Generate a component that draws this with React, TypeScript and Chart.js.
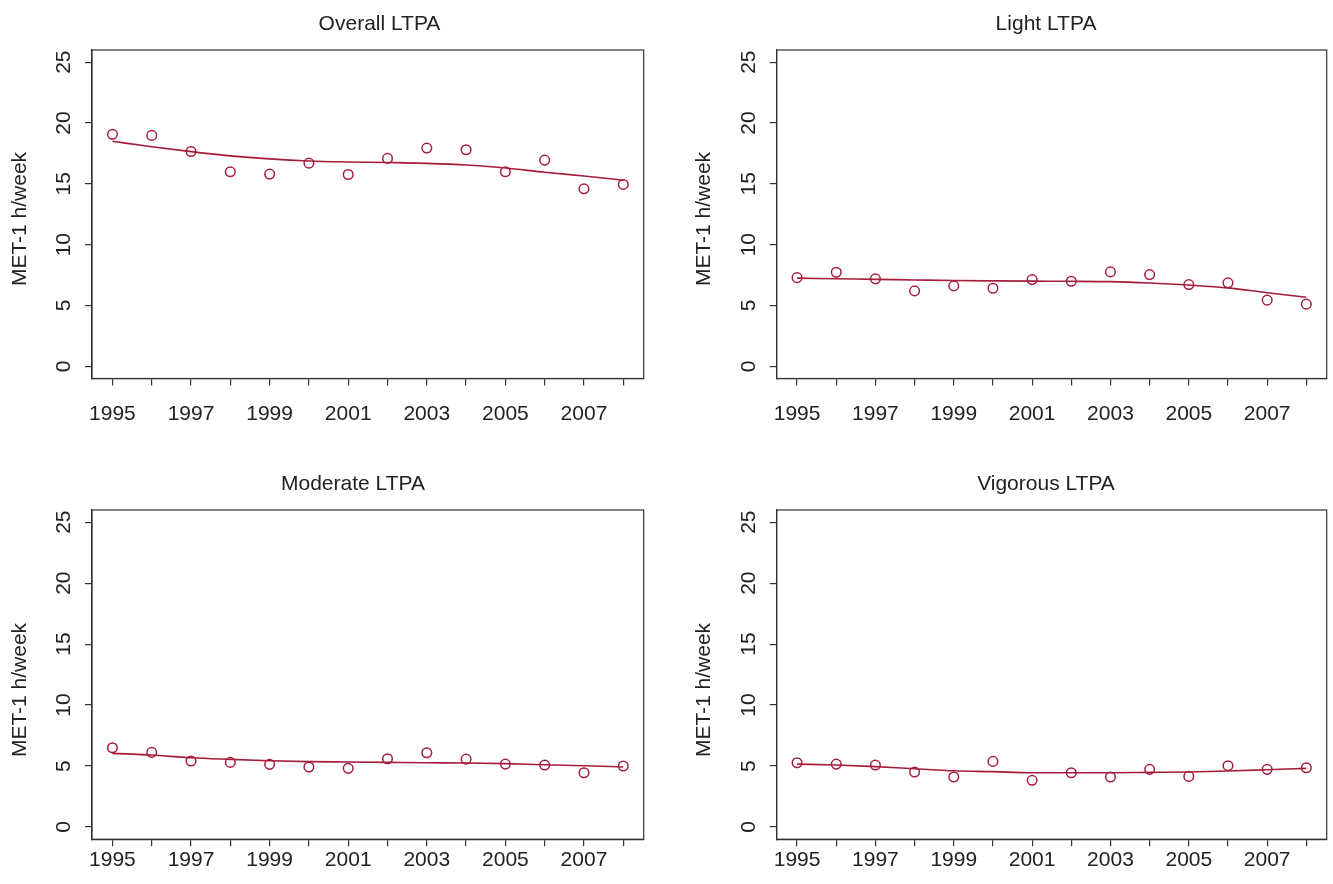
import React, { useEffect, useRef } from "react";
import { Chart, registerables } from "chart.js";

Chart.register(...registerables);

// ---------- data ----------
const years = [1995, 1996, 1997, 1998, 1999, 2000, 2001, 2002, 2003, 2004, 2005, 2006, 2007, 2008];
const xTickYears = [1995, 1996, 1997, 1998, 1999, 2000, 2001, 2002, 2003, 2004, 2005, 2006, 2007, 2008];
const xLabelYears = [1995, 1997, 1999, 2001, 2003, 2005, 2007];
const yTicks = [0, 5, 10, 15, 20, 25];

const overallValues = [19.07, 18.98, 17.66, 15.99, 15.8, 16.7, 15.77, 17.09, 17.94, 17.8, 15.99, 16.95, 14.59, 14.95];
const overallSmooth = [18.5, 18.05, 17.65, 17.3, 17.05, 16.88, 16.8, 16.75, 16.68, 16.55, 16.3, 15.95, 15.65, 15.3];

const lightValues = [7.29, 7.73, 7.19, 6.2, 6.61, 6.42, 7.13, 6.99, 7.76, 7.54, 6.72, 6.86, 5.44, 5.11];
const lightSmooth = [7.25, 7.2, 7.15, 7.1, 7.05, 7.02, 7.0, 6.99, 6.96, 6.85, 6.68, 6.45, 6.05, 5.68];

const moderateValues = [6.5, 6.12, 5.41, 5.3, 5.14, 4.92, 4.81, 5.6, 6.09, 5.57, 5.16, 5.08, 4.45, 5.0];
const moderateSmooth = [6.04, 5.9, 5.68, 5.55, 5.44, 5.36, 5.33, 5.3, 5.27, 5.25, 5.2, 5.1, 5.03, 4.92];

const vigorousValues = [5.27, 5.16, 5.08, 4.51, 4.1, 5.38, 3.83, 4.45, 4.1, 4.73, 4.15, 5.03, 4.73, 4.86];
const vigorousSmooth = [5.16, 5.08, 4.95, 4.78, 4.61, 4.54, 4.45, 4.45, 4.45, 4.48, 4.51, 4.59, 4.7, 4.81];

const panelTitles = ["Overall LTPA", "Light LTPA", "Moderate LTPA", "Vigorous LTPA"];
const yAxisTitle = "MET-1 h/week";

// ---------- styling / layout ----------
const FONT = '"Liberation Sans", Arial, Helvetica, sans-serif';
const FS = 21;
const MARK = "#A51C3C";
const INK = "#222222";
const AXIS = "#333333";

type Panel = {
  title: string;
  values: number[];
  smooth: number[];
  left: number;
  top: number;
  width: number;
  height: number;
  padL: number;
  padR: number;
  padT: number;
  areaBottom: number;
  titleX: number;
  titleY: number;
  yTitleX: number;
  yTitleY: number;
  xLabelPad: number;
};

const PANELS: Panel[] = [
  { title: panelTitles[0], values: overallValues, smooth: overallSmooth, left: 0, top: 0, width: 666, height: 442, padL: 0, padR: 22.3, padT: 50, areaBottom: 378.5, titleX: 379.5, titleY: 30, yTitleX: 20, yTitleY: 219, xLabelPad: 16 },
  { title: panelTitles[1], values: lightValues, smooth: lightSmooth, left: 666, top: 0, width: 667, height: 442, padL: 18.7, padR: 4.6, padT: 50, areaBottom: 378.5, titleX: 380, titleY: 30, yTitleX: 38.5, yTitleY: 219, xLabelPad: 16 },
  { title: panelTitles[2], values: moderateValues, smooth: moderateSmooth, left: 0, top: 442, width: 666, height: 442, padL: 0, padR: 22.3, padT: 68, areaBottom: 397.2, titleX: 353, titleY: 48, yTitleX: 20, yTitleY: 248, xLabelPad: 1 },
  { title: panelTitles[3], values: vigorousValues, smooth: vigorousSmooth, left: 666, top: 442, width: 667, height: 442, padL: 18.7, padR: 4.6, padT: 68, areaBottom: 397.2, titleX: 380, titleY: 48, yTitleX: 38.5, yTitleY: 248, xLabelPad: 1 },
];

const panelDecor = {
  id: "panelDecor",
  afterDraw(chart: any, _args: any, opts: any) {
    const { ctx, chartArea } = chart;
    ctx.save();
    ctx.strokeStyle = AXIS;
    ctx.lineWidth = 1.2;
    ctx.strokeRect(chartArea.left, chartArea.top, chartArea.right - chartArea.left, chartArea.bottom - chartArea.top);
    ctx.fillStyle = INK;
    ctx.font = `${FS}px ${FONT}`;
    ctx.textAlign = "center";
    ctx.textBaseline = "alphabetic";
    ctx.fillText(opts.text, opts.x, opts.y);
    ctx.translate(opts.yx, opts.yy);
    ctx.rotate(-Math.PI / 2);
    ctx.textBaseline = "middle";
    ctx.fillText(opts.yText, 0, 0);
    ctx.restore();
  },
};

function makeConfig(p: Panel): any {
  const points = years.map((x, i) => ({ x, y: p.values[i] }));
  const curve = years.map((x, i) => ({ x, y: p.smooth[i] }));
  return {
    type: "scatter",
    data: {
      datasets: [
        {
          data: curve,
          showLine: true,
          borderColor: MARK,
          borderWidth: 1.6,
          pointRadius: 0,
          pointHoverRadius: 0,
          cubicInterpolationMode: "monotone",
          fill: false,
        },
        {
          data: points,
          showLine: false,
          pointStyle: "circle",
          pointRadius: 4.8,
          pointHoverRadius: 4.8,
          borderColor: MARK,
          backgroundColor: "rgba(0,0,0,0)",
          pointBorderWidth: 1.5,
        },
      ],
    },
    options: {
      animation: false,
      responsive: false,
      devicePixelRatio: 1,
      events: [],
      layout: { padding: { left: p.padL, right: p.padR, top: p.padT, bottom: 0 } },
      plugins: {
        legend: { display: false },
        tooltip: { enabled: false },
        title: { display: false },
        panelDecor: { text: p.title, x: p.titleX, y: p.titleY, yText: yAxisTitle, yx: p.yTitleX, yy: p.yTitleY },
      },
      scales: {
        x: {
          type: "linear",
          min: 1994.48,
          max: 2008.52,
          afterBuildTicks: (s: any) => {
            s.ticks = xTickYears.map((v) => ({ value: v }));
          },
          afterFit: (s: any) => {
            s.height = p.height - p.areaBottom;
          },
          ticks: {
            autoSkip: false,
            maxRotation: 0,
            minRotation: 0,
            padding: p.xLabelPad,
            color: INK,
            font: { family: FONT, size: FS },
            callback: (v: any) => (xLabelYears.includes(Number(v)) ? String(v) : ""),
          },
          grid: { display: true, drawOnChartArea: false, drawTicks: true, tickLength: 7, color: AXIS, lineWidth: 1.2 },
          border: { display: true, color: AXIS, width: 1.2 },
        },
        y: {
          type: "linear",
          min: -1,
          max: 26,
          afterBuildTicks: (s: any) => {
            s.ticks = yTicks.map((v) => ({ value: v }));
          },
          afterFit: (s: any) => {
            s.width = 92;
          },
          title: { display: false },
          ticks: {
            minRotation: 90,
            maxRotation: 90,
            crossAlign: "center",
            padding: 9,
            color: INK,
            font: { family: FONT, size: FS },
            callback: (v: any) => String(v),
          },
          grid: { display: true, drawOnChartArea: false, drawTicks: true, tickLength: 7, color: AXIS, lineWidth: 1.2 },
          border: { display: true, color: AXIS, width: 1.2 },
        },
      },
    },
    plugins: [panelDecor],
  };
}

function PanelChart({ p }: { p: Panel }) {
  const ref = useRef<HTMLCanvasElement | null>(null);
  useEffect(() => {
    if (!ref.current) return;
    const chart = new Chart(ref.current, makeConfig(p));
    return () => chart.destroy();
  }, [p]);
  return (
    <canvas
      ref={ref}
      width={p.width}
      height={p.height}
      style={{ position: "absolute", left: p.left, top: p.top, width: p.width, height: p.height }}
    />
  );
}

export default function App() {
  return (
    <div style={{ position: "fixed", left: 0, top: 0, width: 1333, height: 884, background: "#ffffff", overflow: "hidden" }}>
      {PANELS.map((p) => (
        <PanelChart key={p.title} p={p} />
      ))}
    </div>
  );
}
